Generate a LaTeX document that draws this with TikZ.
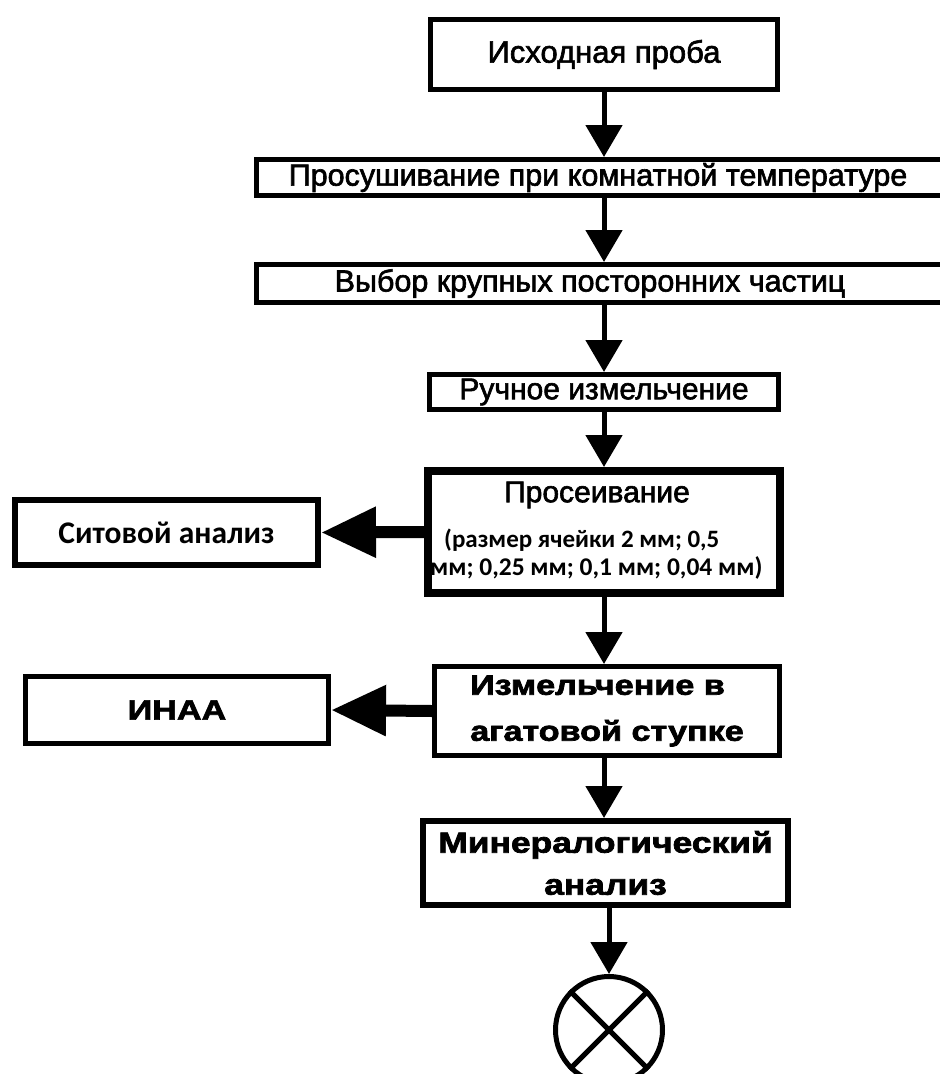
\documentclass[tikz,border=0pt]{standalone}
\usepackage{fontspec}
\setmainfont{Liberation Sans}
\newfontfamily\arl[FakeBold=2]{Liberation Sans}
\newfontfamily\clb{Carlito}
\newfontfamily\cnd[FakeStretch=1.22,FakeBold=2.5]{Liberation Sans}
\usetikzlibrary{arrows.meta}
\begin{document}
\begin{tikzpicture}[x=1pt,y=-1pt,
  box/.style={draw=black,rectangle,inner sep=0pt,line width=5pt},
  txt/.style={inner sep=0pt},
  darr/.style={line width=5pt,-{Triangle[width=36pt,length=32pt]}},
  harr/.style={line width=12pt,-{Triangle[width=48pt,length=55pt]}}]
\useasboundingbox (0,0) rectangle (940,1074);
\node[box,minimum width=347pt,minimum height=70pt,font=\arl\fontsize{31}{34}\selectfont] (b1) at (604,54.5) {Исходная проба};
\node[box,minimum width=693.5pt,minimum height=36pt,font=\arl\fontsize{30.5}{32}\selectfont] (b2) at (603,177.5) {\hspace*{-10pt}Просушивание при комнатной температуре};
\node[box,minimum width=693.5pt,minimum height=38pt,font=\arl\fontsize{30.5}{32}\selectfont] (b3) at (603,283.5) {\hspace*{-26pt}Выбор крупных посторонних частиц};
\node[box,minimum width=349pt,minimum height=35pt,font=\arl\fontsize{30}{32}\selectfont] (b4) at (604,392) {Ручное измельчение};
\node[box,line width=8pt,minimum width=352pt,minimum height=122pt] (b5) at (604,532) {};
\node[txt,font=\arl\fontsize{30}{32}\selectfont] (t5a) at (597,495) {Просеивание};
\node[txt,anchor=west,font=\clb\bfseries\fontsize{25}{30}\selectfont] (t5b) at (444,540) {(размер ячейки 2 мм; 0,5};
\node[txt,anchor=west,font=\clb\bfseries\fontsize{25.5}{30}\selectfont] (t5c) at (430,568) {мм; 0,25 мм; 0,1 мм; 0,04 мм)};
\node[box,line width=6pt,minimum width=303pt,minimum height=65pt,font=\clb\bfseries\fontsize{31.5}{34}\selectfont] (sit) at (166.5,532.5) {Ситовой анализ};
\node[box,minimum width=345pt,minimum height=89pt,align=left,font=\cnd\bfseries\fontsize{28}{46}\selectfont] (b6) at (607,711) {Измельчение в\\агатовой ступке};
\node[box,minimum width=303pt,minimum height=67pt,font=\cnd\bfseries\fontsize{28}{32}\selectfont] (inaa) at (177,710) {ИНАА};
\node[box,line width=6pt,minimum width=365pt,minimum height=84pt,align=center,font=\cnd\bfseries\fontsize{29}{42}\selectfont] (b7) at (605.5,863) {Минералогический\\анализ};
\node[draw=black,circle,line width=5pt,minimum size=107pt,inner sep=0pt] (end) at (609,1030) {};
\draw[line width=5pt] (end.45) -- (end.225) (end.135) -- (end.315);
\draw[darr] (b1.south) -- (b1.south |- b2.north);
\draw[darr] (b1.south |- b2.south) -- (b1.south |- b3.north);
\draw[darr] (b1.south |- b3.south) -- (b4.north);
\draw[darr] (b4.south) -- (b5.north);
\draw[darr] (b5.south) -- (b5.south |- b6.north);
\draw[darr] (b5.south |- b6.south) -- (b5.south |- b7.north);
\draw[darr] (b7.south -| end.north) -- (end.north);
\draw[harr] (b5.west) -- (sit.east);
\draw[harr] (b6.west) -- (inaa.east);
\end{tikzpicture}
\end{document}
